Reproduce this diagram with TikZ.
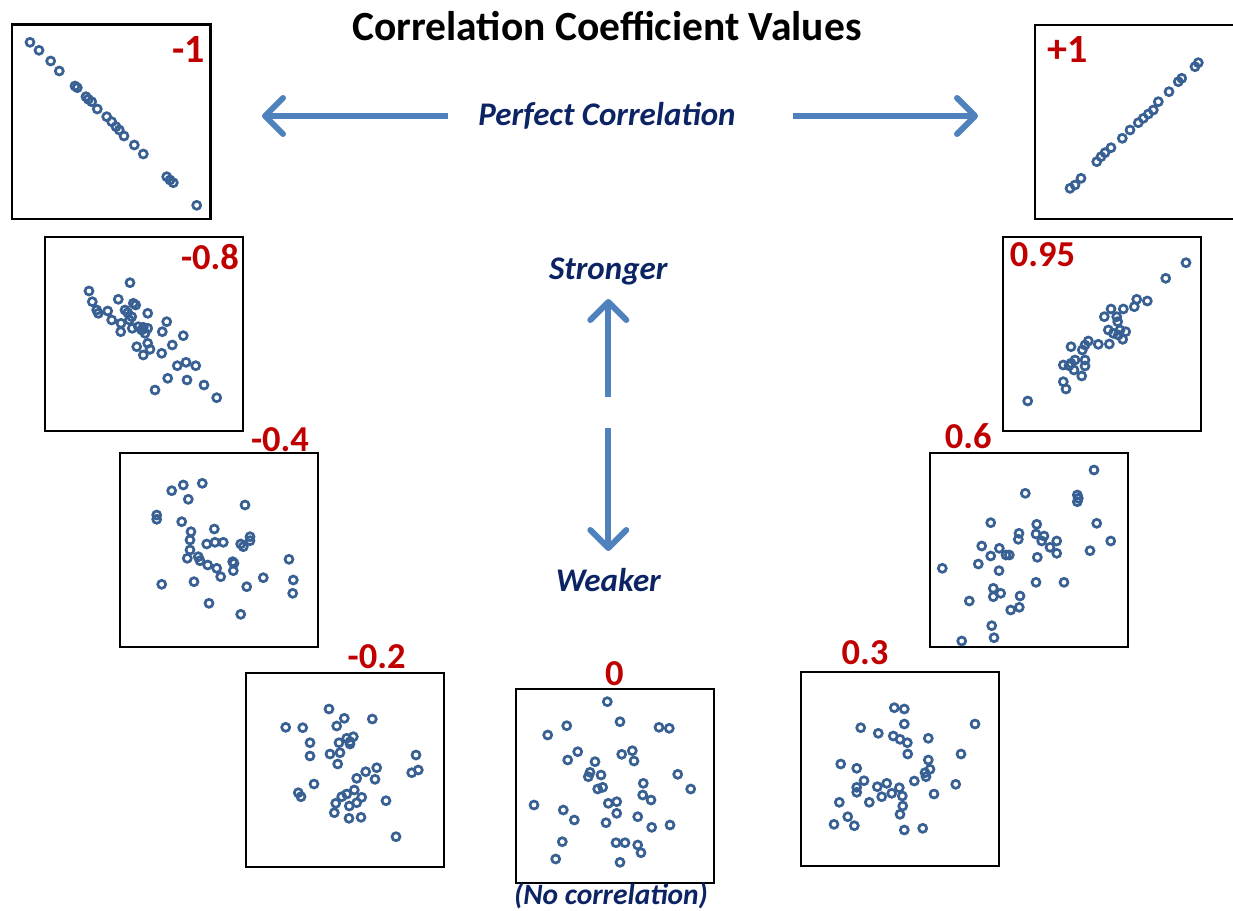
\documentclass[tikz,border=0pt]{standalone}
\usepackage{fontspec}
\setmainfont{Carlito}
\usetikzlibrary{arrows.meta}
\definecolor{navy}{RGB}{12,35,100}
\definecolor{dred}{RGB}{192,0,0}
\definecolor{arrowblue}{RGB}{79,129,189}
\definecolor{dotblue}{RGB}{56,96,146}
\begin{document}
\begin{tikzpicture}[x=1pt,y=-1pt,
  box/.style={draw=black, line width=1.9pt, minimum width=198pt, minimum height=194pt, anchor=north west, inner sep=0pt, outer sep=0pt},
  thickbox/.style={box, line width=2.7pt},
  val/.style={text=dred, font=\fontsize{36.5}{40}\selectfont\bfseries, inner sep=0pt},
  bigval/.style={val, font=\fontsize{40}{44}\selectfont\bfseries},
  lab/.style={text=navy, font=\fontsize{33}{38}\selectfont\bfseries\itshape, inner sep=0pt},
  title/.style={text=black, font=\fontsize{41.5}{48}\selectfont\bfseries, inner sep=0pt},
  bigarrow/.style={draw=arrowblue, line width=6pt, -{Straight Barb[length=18pt,width=36pt,round]}},
  pt/.style={draw=dotblue, line width=2.7pt}
]
\useasboundingbox (0,0) rectangle (1233,910);

% title
\node[title] (ttl) at (607,26) {Correlation Coefficient Values};

% boxes
\node[thickbox, minimum width=198.7pt, minimum height=194.3pt] (bm1) at (12,24.7) {};
\node[box, minimum width=200pt, minimum height=194.3pt] (bp1) at (1035,24.7) {};
\node[box] (bm08) at (45,237.3) {};
\node[box] (bp095) at (1003.3,237.3) {};
\node[box] (bm04) at (120,453.3) {};
\node[box] (bp06) at (930,453.3) {};
\node[box] (bm02) at (246,673.3) {};
\node[box] (bz) at (516,689) {};
\node[box] (bp03) at (801,672.3) {};

% values
\node[bigval] (vm1) at (189,49.3) {-1};
\node[bigval] (vp1) at (1068,49.3) {+1};
\node[val] (vm08) at (210,256.7) {-0.8};
\node[val] (vp095) at (1042.5,255) {0.95};
\node[val] (vm04) at (280,439.3) {-0.4};
\node[val] (vp06) at (968.3,436) {0.6};
\node[val] (vm02) at (376.7,656.7) {-0.2};
\node[val] (vz) at (614.3,673.3) {0};
\node[val] (vp03) at (865,652.7) {0.3};

% labels
\node[lab] (perf) at (607,116) {Perfect Correlation};
\node[lab] (strong) at (608.3,271) {Stronger};
\node[lab] (weak) at (608.3,580) {Weaker};
\node[lab, font=\fontsize{29.5}{34}\selectfont\bfseries\itshape] (noc) at (611,896) {(No correlation)};

% arrows
\coordinate (aL1) at (448,116);
\coordinate (aL2) at (262,116);
\coordinate (aR1) at (793,116);
\coordinate (aR2) at (978,116);
\coordinate (aU1) at (608.3,396.7);
\coordinate (aU2) at (608.3,299);
\coordinate (aD1) at (608.3,428.3);
\coordinate (aD2) at (608.3,551);
\draw[bigarrow] (aL1) -- (aL2);
\draw[bigarrow] (aR1) -- (aR2);
\draw[bigarrow] (aU1) -- (aU2);
\draw[bigarrow] (aD1) -- (aD2);

% points -1
\foreach \x/\y in {30/42.3,39/50.3,50.7/61,59.3/71,75/86,77.3/87.7,86/96.7,88.3/99.3,91.7/101.7,97.3/109,106.7/116.7,111.7/121.7,116/126.7,119.3/130,124/136,134.3/145,143.3/154,166.7/176.7,170/180,173.3/182.7,196.7/205.3}
  \draw[pt] (\x,\y) circle (4);
% points +1
\foreach \x/\y in {1070/188.3,1075/185,1081/178.3,1096.7/161.7,1101/156.7,1105/152.7,1111/147.7,1122.3/138.3,1130/130,1138.3/122.7,1143.3/118.3,1148.3/114,1153.3/110,1158.3/101.7,1169/91.7,1178.3/81.7,1181.7/78.3,1195/66.7,1198.3/62.7}
  \draw[pt] (\x,\y) circle (4);
% points -0.8
\foreach \x/\y in {89/291,130/282.7,92.3/301.7,96.7/310,98.3/313.3,107.7/311,118.3/299.3,111.7/320,121/323.3,120.7/331.7,127.7/312.7,133.3/303.3,135.7/305,131.7/316.7,132.3/328.3,138.3/326.7,143.3/327.3,147.7/328.3,145/333.3,147.7/313.3,166.7/321.7,162.3/331.7,136.7/346.7,147.7/343.3,143.3/355,150/349.3,161.7/353.3,172.3/345,183.3/335.7,177.3/365.7,186/362.3,195.7/365.7,167.7/378.3,187/380,204/385,155/390,216.7/397.7,125/310,129.3/320,141.7/330}
  \draw[pt] (\x,\y) circle (4);
% points 0.95
\foreach \x/\y in {1186/262.7,1165.7/278.3,1136.7/299.3,1147.3/301,1134.3/306.7,1123.3/309,1111/309,1104.3/316.7,1116.7/316.7,1117.7/321.7,1108.3/330,1120/330,1125.7/331.7,1122.7/339.3,1109.3/344,1098.3/344.3,1088.3/341,1085/345,1071/346.7,1082.3/350,1085/360,1075/360,1071/363.3,1063.3/365,1069/365.7,1085/366,1074/370,1081.7/376,1063.3/381.7,1066/389,1027.7/401,1113.3/333.3,1118.3/335}
  \draw[pt] (\x,\y) circle (4);
% points -0.4
\foreach \x/\y in {171.7/490.7,183.3/485,202.3/483.3,188.3/499.3,245/505,156.7/515,156.7/519.3,181.7/521.7,214.3/529,191/531.7,190/540,206.7/544,215/542.3,223.3/542.3,240.7/544,250/536.7,250/540.7,243.3/546.7,190/550,187.3/558.3,198.3/556.7,200/560.7,207.7/565,216.7/568.3,220.7/576.7,232.7/561.7,234/563.3,233.3/570.7,289/559.3,263.3/577.7,293.3/580,292.7/593.3,246.7/586.7,194/581.7,161.7/584.3,209/603.3,240.7/614.3}
  \draw[pt] (\x,\y) circle (4);
% points 0.6
\foreach \x/\y in {1094/470,1025.3/493.3,1077.3/495,1078.3/498.3,1077.3/501.7,990.7/522.7,1096.7/523.3,1036.7/524.3,1019/533.3,1036/534,1044/536,1018.3/539.3,1041.7/541,1056.7/541,1110.7/541,981.7/546,999.3/548.3,1050/547.3,1056.7/553.3,1090/550.7,990.7/556,1006/555,1009.3/555,1037.3/557.3,978.3/564,999/570.7,942.3/568.3,1036/582.3,1064/582.3,993.3/588.3,1000.7/593.3,993.3/596.7,1020/596,969.3/601,1019.3/607.3,1010.7/610,991.7/625.7,994/637.7,961.7/641}
  \draw[pt] (\x,\y) circle (4);
% points -0.2
\foreach \x/\y in {329/709,344.3/718.3,372.3/719,285.7/727.3,302.7/727.7,336.7/726,310/742.7,310/756,339/742.7,346.7/738.3,353.3/736.7,350/744,330/754,340/752.7,337.7/764,416/755,411.7/772.7,418.3/770,365.7/771.7,376.7/767.7,375/779.3,356.7/778.3,314/784,298.3/792.7,301/796.7,354.3/790,346.7/794,341.7/796.7,361.7/797.3,356.7/802.7,335.7/803.3,349.3/806,334.3/812.7,349/818.3,361/817.3,386/800.7,396/836.7,350/741.7}
  \draw[pt] (\x,\y) circle (4);
% points 0
\foreach \x/\y in {607.3/701.7,620/721.7,566.7/725.7,547.7/735,659/727.3,669.3/728.3,577.7/751.7,567.7/760,621.7/754.3,632.3/750.7,634/761,595/761.7,590/772.3,588.3/776.7,601/775,677.7/774.3,597.7/789,602.7/787.3,643.3/783.3,690.7/789,642.7/795,651/800,534/805,608.3/803.3,616.7/801.7,616.7/813.3,563.3/810,574.3/820,606/822.7,637.7/816.7,651.7/827.3,670/825,562.3/841.7,616/842.7,625/842.7,637.7/845,641/852.7,555.7/859,620/862.3}
  \draw[pt] (\x,\y) circle (4);
% points 0.3
\foreach \x/\y in {894.3/707.7,904.3/709,904.3/724,975/724,860.7/727.7,878.3/733.3,893.3/736,900/739.3,907.3/742.7,928.3/738.3,907.7/754,961/754,840.7/764,856.7/768.3,928.3/760,930/769.3,925/772.7,926/776.7,914.3/781,864/780.7,856.7/787.3,856.7/792.3,877.3/786.7,886.7/783.3,899.3/787.7,891.7/793.3,881.7/796.7,902.3/796,955.7/784.3,934/794,839.3/802.3,869.3/802.3,902.7/806,900/814.3,847.7/816.7,854.3/825.7,834/824.3,904.3/830,922.7/828.3}
  \draw[pt] (\x,\y) circle (4);
\end{tikzpicture}
\end{document}
